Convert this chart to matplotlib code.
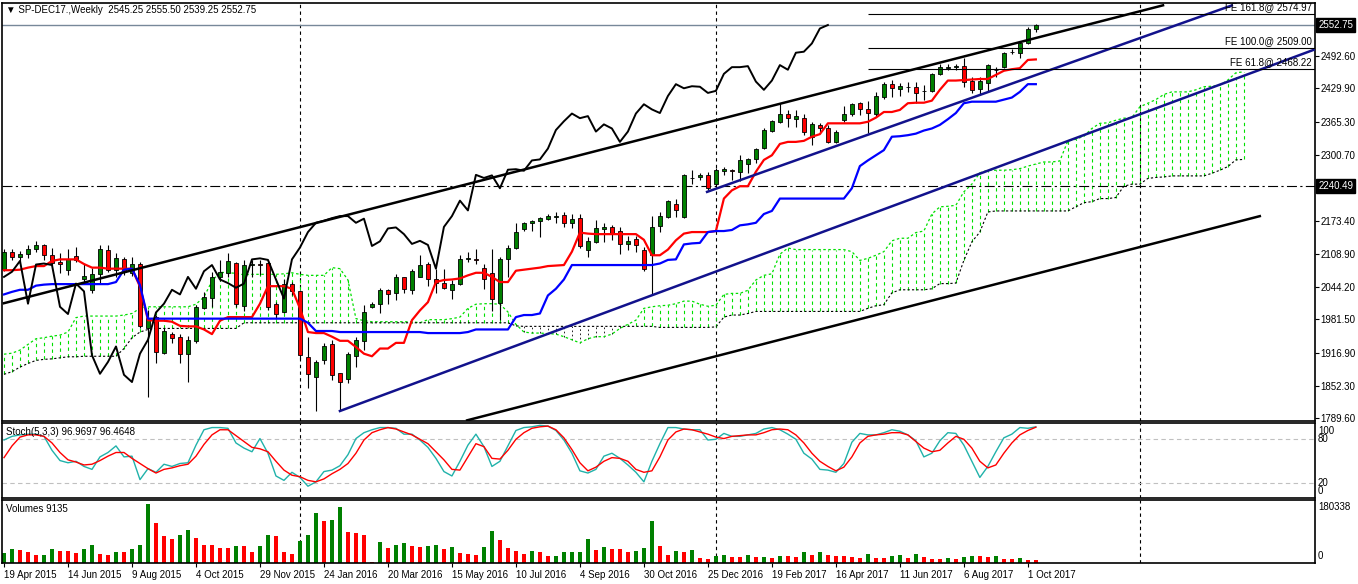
import numpy as np
import matplotlib
matplotlib.use('Agg')
from matplotlib import pyplot as plt

plt.rcParams['font.family'] = ['Liberation Sans', 'DejaVu Sans']
plt.rcParams['font.size'] = 7

# weekly bars, 19 Apr 2015 .. 8 Oct 2017
opens = [2080, 2112, 2102, 2109, 2119, 2125, 2107, 2092, 2077, 2105,
         2060, 2038, 2069, 2117, 2078, 2098, 2072, 2090, 1964, 1986,
         1916, 1953, 1948, 1915, 1939, 2004, 2024, 2064, 2072, 2091,
         2007, 2088, 2090, 2091, 2012, 1996, 2051, 2036, 1909, 1869,
         1902, 1933, 1877, 1865, 1910, 1940, 2006, 2011, 2038, 2032,
         2063, 2039, 2064, 2090, 2060, 2052, 2038, 2051, 2098, 2099,
         2082, 2071, 2014, 2099, 2121, 2156, 2168, 2173, 2177, 2181,
         2184, 2168, 2179, 2116, 2132, 2156, 2160, 2153, 2128, 2137,
         2117, 2106, 2162, 2181, 2206, 2181, 2255, 2257, 2262, 2245,
         2270, 2272, 2268, 2284, 2292, 2315, 2348, 2365, 2380, 2370,
         2373, 2336, 2358, 2352, 2326, 2368, 2380, 2402, 2389, 2380,
         2414, 2438, 2428, 2433, 2432, 2425, 2425, 2458, 2470, 2471,
         2473, 2445, 2428, 2441, 2465, 2472, 2500, 2499, 2517, 2545.25]
highs = [2118, 2119, 2115, 2126, 2133, 2127, 2120, 2110, 2119, 2122,
         2090, 2082, 2126, 2125, 2110, 2103, 2102, 2092, 1999, 1990,
         1964, 1957, 1953, 1949, 2009, 2035, 2074, 2096, 2110, 2093,
         2096, 2096, 2096, 2096, 2015, 2060, 2055, 2038, 1947, 1902,
         1935, 1941, 1878, 1918, 1948, 2009, 2015, 2043, 2041, 2069,
         2064, 2080, 2106, 2093, 2080, 2080, 2058, 2106, 2113, 2119,
         2090, 2119, 2102, 2126, 2169, 2171, 2175, 2181, 2187, 2190,
         2190, 2187, 2187, 2142, 2174, 2168, 2164, 2161, 2143, 2143,
         2122, 2182, 2190, 2214, 2216, 2263, 2272, 2266, 2268, 2276,
         2278, 2274, 2300, 2294, 2315, 2352, 2368, 2401, 2388, 2388,
         2380, 2365, 2363, 2359, 2349, 2395, 2401, 2404, 2406, 2423,
         2443, 2447, 2441, 2443, 2443, 2436, 2460, 2478, 2477, 2478,
         2488, 2452, 2452, 2478, 2472, 2501, 2507, 2520, 2548, 2555.50]
lows = [2075, 2097, 2092, 2100, 2112, 2097, 2088, 2072, 2067, 2093,
        2051, 2033, 2050, 2074, 2064, 2068, 2065, 1964, 1830, 1897,
        1914, 1935, 1897, 1860, 1935, 2002, 2006, 2057, 2064, 2005,
        1998, 2064, 2067, 2000, 1983, 1994, 2028, 1905, 1849, 1804,
        1895, 1863, 1804, 1858, 1889, 1922, 2003, 1994, 2012, 2019,
        2032, 2030, 2063, 2046, 2032, 2040, 2022, 2048, 2093, 2090,
        2041, 1998, 1981, 2064, 2119, 2153, 2153, 2142, 2175, 2168,
        2161, 2158, 2120, 2102, 2129, 2132, 2135, 2108, 2116, 2113,
        2075, 2030, 2151, 2179, 2181, 2179, 2245, 2252, 2232, 2242,
        2262, 2252, 2250, 2265, 2285, 2313, 2345, 2362, 2355, 2355,
        2340, 2320, 2346, 2323, 2323, 2365, 2376, 2378, 2344, 2375,
        2410, 2414, 2415, 2423, 2402, 2407, 2423, 2455, 2465, 2466,
        2432, 2420, 2417, 2423, 2451, 2469, 2496, 2488, 2515, 2539.25]
closes = [2112, 2102, 2108, 2119, 2125, 2107, 2091, 2090, 2099, 2096,
          2065, 2069, 2119, 2078, 2100, 2074, 2090, 1969, 1984, 1918,
          1959, 1946, 1915, 1942, 2006, 2025, 2064, 2074, 2095, 2012,
          2088, 2090, 2087, 2006, 1992, 2051, 2036, 1912, 1876, 1899,
          1929, 1874, 1860, 1915, 1942, 1995, 2012, 2039, 2030, 2064,
          2041, 2075, 2087, 2059, 2052, 2043, 2051, 2098, 2100, 2097,
          2059, 2022, 2098, 2121, 2151, 2169, 2173, 2178, 2182, 2182,
          2169, 2177, 2124, 2133, 2158, 2160, 2147, 2128, 2134, 2126,
          2080, 2161, 2182, 2212, 2193, 2262, 2256, 2261, 2236, 2272,
          2273, 2270, 2290, 2292, 2313, 2349, 2366, 2381, 2372, 2376,
          2346, 2360, 2352, 2326, 2346, 2381, 2399, 2389, 2382, 2415,
          2438, 2430, 2434, 2433, 2421, 2425, 2458, 2471, 2471, 2473,
          2443, 2427, 2445, 2475, 2466, 2499, 2501, 2517, 2546, 2552.75]

tenkan = [2077, 2077, 2078, 2082, 2085, 2085, 2095, 2098, 2098, 2098,
          2089, 2082, 2082, 2080, 2080, 2080, 2080, 2045, 1980, 1979,
          1979, 1977, 1969, 1968, 1968, 1962, 1953, 1979, 1986, 1986,
          1986, 1986, 2012, 2046, 2046, 2046, 2041, 2003, 1957, 1955,
          1955, 1948, 1940, 1940, 1928, 1915, 1910, 1925, 1925, 1936,
          1936, 1980, 1999, 2015, 2054, 2058, 2059, 2061, 2067, 2072,
          2072, 2064, 2054, 2054, 2076, 2078, 2080, 2082, 2085, 2086,
          2087, 2113, 2150, 2148, 2147, 2147, 2147, 2147, 2147, 2147,
          2136, 2106, 2106, 2117, 2135, 2148, 2151, 2151, 2151, 2153,
          2216, 2232, 2240, 2240, 2268, 2291, 2300, 2322, 2326, 2326,
          2328, 2336, 2341, 2362, 2362, 2362, 2362, 2362, 2365, 2373,
          2384, 2384, 2388, 2401, 2402, 2402, 2406, 2427, 2445, 2445,
          2446, 2447, 2448, 2448, 2456, 2464, 2467, 2469, 2485, 2486]
kijun = [2030, 2035, 2039, 2039, 2047, 2049, 2050, 2050, 2050, 2050,
         2050, 2050, 2050, 2050, 2054, 2078, 2080, 2048, 1983, 1983,
         1983, 1983, 1983, 1983, 1983, 1983, 1983, 1983, 1983, 1983,
         1983, 1983, 1983, 1983, 1983, 1983, 1983, 1983, 1975, 1959,
         1959, 1959, 1957, 1957, 1957, 1957, 1957, 1957, 1957, 1957,
         1957, 1957, 1957, 1955, 1955, 1955, 1955, 1955, 1957, 1962,
         1962, 1962, 1962, 1962, 1986, 1990, 1990, 1993, 2028, 2041,
         2059, 2087, 2087, 2087, 2087, 2087, 2087, 2087, 2087, 2087,
         2087, 2087, 2090, 2097, 2098, 2127, 2129, 2130, 2151, 2153,
         2153, 2155, 2164, 2166, 2169, 2186, 2192, 2216, 2216, 2216,
         2216, 2216, 2216, 2216, 2216, 2216, 2236, 2279, 2290, 2300,
         2310, 2336, 2337, 2339, 2342, 2348, 2352, 2359, 2370, 2382,
         2401, 2404, 2404, 2404, 2404, 2408, 2412, 2423, 2438, 2438]

# cloud, already shifted 26 bars ahead (156 points)
span_a = [1914, 1916, 1922, 1933, 1944, 1946, 1949, 1951, 1957, 1985,
          1988, 1988, 1988, 1988, 1988, 1990, 1993, 2003, 2006, 2006,
          2006, 2006, 2006, 2006, 2011, 2025, 2056, 2073, 2072, 2071,
          2068, 2069, 2069, 2069, 2069, 2070, 2072, 2069, 2067, 2067,
          2067, 2082, 2080, 2058, 1983, 1979, 1977, 1977, 1977, 1977,
          1977, 1977, 1975, 1981, 1981, 1981, 1983, 1986, 2003, 2011,
          2012, 2012, 2011, 1996, 1972, 1957, 1955, 1955, 1954, 1953,
          1948, 1942, 1936, 1944, 1948, 1948, 1953, 1964, 1972, 1980,
          2003, 2006, 2008, 2009, 2012, 2017, 2017, 2011, 2007, 2009,
          2030, 2032, 2032, 2038, 2058, 2067, 2070, 2108, 2120, 2117,
          2117, 2117, 2117, 2117, 2117, 2117, 2113, 2096, 2100, 2106,
          2113, 2134, 2139, 2139, 2150, 2153, 2186, 2200, 2201, 2203,
          2229, 2244, 2266, 2271, 2271, 2271, 2272, 2274, 2279, 2283,
          2287, 2287, 2289, 2328, 2331, 2337, 2352, 2362, 2363, 2368,
          2372, 2373, 2394, 2401, 2408, 2418, 2423, 2423, 2423, 2427,
          2433, 2434, 2436, 2446, 2460, 2462]
span_b = [1875, 1880, 1889, 1896, 1902, 1904, 1905, 1907, 1909, 1909,
          1910, 1910, 1910, 1910, 1910, 1925, 1946, 1957, 1962, 1964,
          1964, 1964, 1964, 1964, 1964, 1964, 1964, 1964, 1964, 1964,
          1975, 1975, 1975, 1975, 1975, 1975, 1975, 1975, 1975, 1975,
          1975, 1975, 1975, 1975, 1975, 1975, 1975, 1975, 1975, 1975,
          1975, 1975, 1975, 1975, 1975, 1975, 1975, 1975, 1975, 1975,
          1975, 1975, 1975, 1975, 1969, 1968, 1968, 1968, 1968, 1968,
          1968, 1968, 1968, 1968, 1968, 1968, 1968, 1968, 1968, 1968,
          1968, 1968, 1966, 1966, 1966, 1966, 1966, 1966, 1966, 1967,
          1986, 1990, 1990, 1993, 1997, 1997, 1997, 1997, 1997, 1997,
          1997, 1997, 1997, 1997, 1997, 1997, 1997, 1997, 2003, 2008,
          2010, 2033, 2039, 2039, 2039, 2039, 2041, 2051, 2051, 2052,
          2096, 2132, 2151, 2190, 2192, 2192, 2192, 2192, 2192, 2192,
          2192, 2192, 2192, 2192, 2200, 2208, 2210, 2216, 2216, 2218,
          2240, 2244, 2244, 2255, 2257, 2258, 2260, 2260, 2260, 2260,
          2260, 2265, 2271, 2278, 2291, 2292]

stoch_k = [79, 84, 86, 87, 87, 84, 65, 51, 48, 50, 43, 39, 56, 62, 71, 56, 57, 25, 40, 35,
           46, 43, 47, 48, 72, 93, 96, 96, 95, 75, 68, 63, 81, 61, 30, 24, 35, 28, 16, 22,
           36, 38, 44, 59, 81, 89, 93, 96, 96, 95, 87, 87, 79, 69, 54, 36, 30, 50, 72, 87,
           70, 43, 50, 71, 92, 96, 97, 99, 98, 92, 79, 61, 37, 34, 39, 57, 61, 54, 45, 35,
           22, 50, 74, 96, 96, 94, 93, 93, 79, 80, 88, 84, 84, 86, 88, 94, 96, 93, 87, 80,
           61, 53, 39, 38, 35, 47, 76, 88, 86, 86, 89, 93, 91, 86, 78, 56, 61, 78, 89, 88,
           72, 50, 28, 43, 63, 82, 87, 96, 95, 96.9697]
stoch_d = [55, 71, 83, 86, 86, 84, 75, 62, 52, 49, 45, 46, 51, 57, 62, 62, 54, 47, 40, 34,
           39, 41, 44, 46, 57, 73, 86, 93, 93, 85, 77, 69, 67, 63, 50, 38, 31, 29, 24, 22,
           26, 33, 39, 47, 61, 79, 89, 93, 96, 94, 90, 86, 80, 74, 63, 52, 39, 38, 56, 74,
           70, 54, 53, 65, 80, 89, 95, 97, 98, 93, 82, 66, 48, 37, 42, 50, 55, 54, 50, 39,
           35, 37, 56, 79, 90, 94, 93, 90, 87, 83, 81, 84, 85, 86, 86, 89, 93, 94, 93, 86,
           75, 61, 50, 43, 37, 42, 56, 75, 84, 86, 87, 89, 89, 86, 77, 68, 63, 65, 75, 84,
           80, 68, 50, 41, 45, 61, 75, 86, 92, 96.4648]

volumes = [30750, 42000, 39000, 32800, 23600, 24000, 42000, 35900, 35800, 30750,
           42000, 54300, 26650, 23600, 32800, 32600, 42000, 54300, 180338, 121000,
           82000, 73800, 85100, 100500, 75900, 54300, 54000, 45100, 44900, 51300,
           51000, 32800, 51300, 85100, 82000, 32800, 26650, 66600, 85100, 152700,
           129200, 131200, 171200, 94300, 91200, 85100, 2000, 63500, 45100, 54300,
           60500, 51300, 48200, 51300, 54300, 42000, 48200, 29700, 26650, 23600,
           48200, 97400, 69700, 45100, 35900, 26650, 35900, 32800, 20500, 20600,
           32800, 32900, 33000, 72800, 39000, 48200, 42000, 41900, 32800, 35900,
           45100, 128100, 51300, 23600, 35900, 33800, 40000, 15400, 12300, 21500,
           24600, 18500, 18400, 24600, 18500, 19000, 15400, 21500, 21400, 18500,
           33800, 24600, 33800, 24600, 21500, 21400, 18500, 15400, 27700, 15400,
           15300, 21500, 24600, 15400, 27700, 18500, 12300, 12200, 15400, 12300,
           18500, 21500, 21400, 18500, 21500, 12300, 12200, 15400, 9300, 9135]

date_labels = ['19 Apr 2015', '14 Jun 2015', '9 Aug 2015', '4 Oct 2015', '29 Nov 2015',
               '24 Jan 2016', '20 Mar 2016', '15 May 2016', '10 Jul 2016', '4 Sep 2016',
               '30 Oct 2016', '25 Dec 2016', '19 Feb 2017', '16 Apr 2017', '11 Jun 2017',
               '6 Aug 2017', '1 Oct 2017']
price_ticks = [2492.60, 2429.90, 2365.30, 2300.70, 2173.40, 2108.90, 2044.20,
               1981.50, 1916.90, 1852.30, 1789.60]
fe_levels = [2574.97, 2509.00, 2468.22]
fe_names = ['FE 161.8', 'FE 100.0', 'FE 61.8']

n = len(closes)
x = np.arange(n)
o = np.array(opens, float)
h = np.array(highs, float)
l = np.array(lows, float)
c = np.array(closes, float)

W, H = 1358, 584
fig = plt.figure(figsize=(W / 100, H / 100), dpi=100)

def rect(top, bottom):
    return [2 / W, 1 - bottom / H, 1313 / W, (bottom - top) / H]

def side_label(y_px, s):
    # labels of the right price scale, placed in picture pixels
    fig.text(1318 / W, 1 - y_px / H, s, ha='left', va='center', fontsize=7)

ax = fig.add_axes(rect(3, 421.3))
ax_st = fig.add_axes(rect(423.3, 498.3))
ax_v = fig.add_axes(rect(500, 563.3))

xlim = (-0.25, 163.9)
separators = [37, 89, 142]
GREEN = '#008000'
LIME = '#00e000'
NAVY = '#12128c'

# ---- main chart
ax.set_xlim(*xlim)
ax.set_ylim(1783.8, 2595.5)

# cloud
xs = np.arange(len(span_a))
sa = np.array(span_a, float)
sb = np.array(span_b, float)
up = sa >= sb
ax.vlines(xs[up], sb[up], sa[up], colors=LIME, linestyles=(0, (3, 3)), lw=0.8, zorder=1)
ax.vlines(xs[~up], sa[~up], sb[~up], colors='black', linestyles=(0, (2, 3)), lw=0.6, zorder=1)
ax.plot(xs, sa, color=LIME, ls=(0, (2, 2)), lw=0.9, zorder=1)
ax.plot(xs, sb, color='black', ls=(0, (2, 2)), lw=0.8, zorder=1)

# candles
ax.vlines(x, l, h, color='black', lw=0.8, zorder=2)
body_lo = np.minimum(o, c)
body_h = np.abs(c - o)
cols = np.where(c >= o, GREEN, '#ff0000')
ax.bar(x, body_h, bottom=body_lo, width=0.55, color=cols, edgecolor='black', lw=0.6, zorder=3)

# ichimoku lines
ax.plot(x, tenkan, color='#ff0000', lw=1.6, zorder=4)
ax.plot(x, kijun, color='#0000ff', lw=1.6, zorder=4)
ax.plot(x[26:] - 26, c[26:], color='black', lw=1.4, zorder=4)

# trend channels
ax.plot([0, 144.9], [2013, 2591], color='black', lw=1.8, zorder=5)
ax.plot([57.9, 157], [1785.7, 2181.9], color='black', lw=1.8, zorder=5)
ax.plot([42, xlim[1]], [1803.8, 1803.8 + (xlim[1] - 42) * 5.757], color=NAVY, lw=1.8, zorder=5)
ax.plot([87.9, 153.5], [2229, 2229 + 65.6 * 5.515], color=NAVY, lw=1.8, zorder=5)

# fibo expansion
ax.hlines(fe_levels, 108, xlim[1], color='black', lw=0.8, zorder=5)
for lev, name in zip(fe_levels, fe_names):
    ax.text(163.5, lev + 2, f'{name}@ {lev:.2f}', ha='right', va='bottom',
            fontsize=7, zorder=6)

ax.axhline(2552.75, color='#778899', lw=1, zorder=1)
ax.axhline(2240.49, color='black', lw=0.8, ls=(0, (9, 3, 2, 3)), zorder=1)

ax.set_xticks([])
ax.yaxis.tick_right()
ax.set_yticks(price_ticks)
ax.set_yticklabels([f'{v:.2f}' for v in price_ticks])
ax.tick_params(axis='y', length=3, pad=1, labelsize=7)
for v in [2552.75, 2240.49]:
    ax.text(1.0025, v, f'{v:.2f}', transform=ax.get_yaxis_transform(), ha='left',
            va='center', color='white', fontsize=7,
            bbox=dict(boxstyle='square,pad=0.2', fc='black', ec='black'))
ax.text(0.003, 0.983, '\u25bc SP-DEC17.,Weekly  2545.25 2555.50 2539.25 2552.75',
        transform=ax.transAxes, ha='left', va='center', fontsize=7)

# ---- stochastic
ax_st.set_xlim(*xlim)
ax_st.set_ylim(-0.45, 101.8)
ax_st.axhline(80, color='#c0c0c0', ls=(0, (4, 3)), lw=0.8)
ax_st.axhline(20, color='#c0c0c0', ls=(0, (4, 3)), lw=0.8)
ax_st.plot(x, stoch_k, color='#20b2aa', lw=1.0)
ax_st.plot(x, stoch_d, color='#ff0000', lw=1.0)
ax_st.set_xticks([])
ax_st.set_yticks([])
for y_px, s in [(430.7, '100'), (439.3, '80'), (483.3, '20'), (490.7, '0')]:
    side_label(y_px, s)
ax_st.text(0.003, 0.884, 'Stoch(5,3,3) 96.9697 96.4648', transform=ax_st.transAxes,
           ha='left', va='center', fontsize=7)

# ---- volumes
vol = np.array(volumes, float)
vcol = [GREEN] + [GREEN if vol[i] > vol[i - 1] else '#ff0000' for i in range(1, n)]
ax_v.set_xlim(*xlim)
ax_v.set_ylim(-1000, 192500)
ax_v.bar(x, vol, width=0.55, color=vcol, lw=0)
ax_v.set_yticks([])
side_label(507.3, '180338')
side_label(556, '0')
ax_v.set_xticks(np.arange(0, n, 8))
ax_v.set_xticklabels(date_labels)
for t in ax_v.get_xticklabels():
    t.set_ha('left')
ax_v.tick_params(axis='x', length=3, pad=2, labelsize=7)
ax_v.text(0.003, 0.858, 'Volumes 9135', transform=ax_v.transAxes,
          ha='left', va='center', fontsize=7)

for a in (ax, ax_st, ax_v):
    for s in a.spines.values():
        s.set_linewidth(1.2)
    for k in separators:
        a.axvline(k, color='black', ls=(0, (3, 3)), lw=0.8, zorder=0)

fig.savefig('out.png', dpi=100)
